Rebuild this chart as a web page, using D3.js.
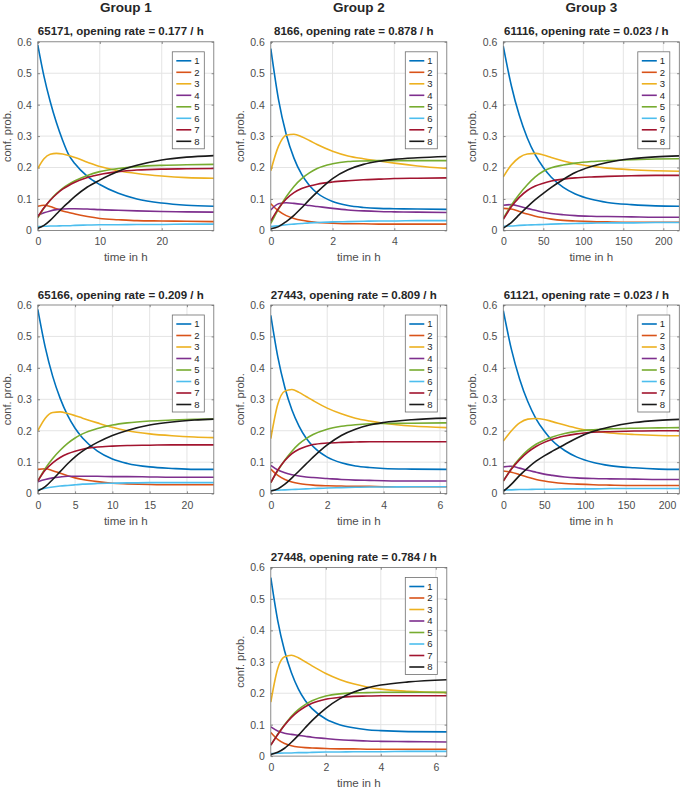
<!DOCTYPE html>
<html><head><meta charset="utf-8">
<script src="https://cdn.jsdelivr.net/npm/d3@7"></script>
<style>body{margin:0;background:#fff;} svg{display:block;font-family:"Liberation Sans",Arial,Helvetica,sans-serif;}</style>
</head><body><svg id="chart" width="683" height="788"></svg>
<script>
const groupTitles = ["Group 1", "Group 2", "Group 3"];
const panelTitles = [
  "65171, opening rate = 0.177 / h",
  "8166, opening rate = 0.878 / h",
  "61116, opening rate = 0.023 / h",
  "65166, opening rate = 0.209 / h",
  "27443, opening rate = 0.809 / h",
  "61121, opening rate = 0.023 / h",
  "27448, opening rate = 0.784 / h"
];
const seriesLabels = ["1", "2", "3", "4", "5", "6", "7", "8"];
const seriesColors = ["#0072BD", "#D95319", "#EDB120", "#7E2F8E", "#77AC30", "#4DBEEE", "#A2142F", "#1a1a1a"];
const xMax = [28.4, 5.7, 220, 23.6, 6.24, 215, 6.4];
const xTickValues = [[0,10,20],[0,2,4],[0,50,100,150,200],[0,5,10,15,20],[0,2,4,6],[0,50,100,150,200],[0,2,4,6]];
const yTickValues = [0, 0.1, 0.2, 0.3, 0.4, 0.5, 0.6];

const p1Time = [0,1,2,3,4,5,6,8,10,13,16,20,24,28.4];
const p1Values = [
  [0.590,0.490,0.410,0.343,0.287,0.240,0.212,0.172,0.146,0.118,0.100,0.087,0.080,0.077],
  [0.077,0.080,0.076,0.069,0.062,0.057,0.052,0.044,0.038,0.034,0.031,0.030,0.029,0.028],
  [0.197,0.228,0.242,0.245,0.243,0.238,0.232,0.217,0.203,0.190,0.181,0.173,0.168,0.166],
  [0.048,0.056,0.062,0.066,0.068,0.069,0.069,0.068,0.066,0.064,0.062,0.060,0.059,0.058],
  [0.040,0.071,0.096,0.117,0.134,0.147,0.158,0.175,0.187,0.197,0.203,0.207,0.209,0.210],
  [0.012,0.013,0.014,0.014,0.015,0.015,0.016,0.017,0.018,0.018,0.019,0.019,0.020,0.020],
  [0.043,0.072,0.096,0.115,0.131,0.143,0.153,0.168,0.178,0.187,0.192,0.195,0.196,0.197],
  [0.007,0.016,0.032,0.052,0.072,0.090,0.108,0.138,0.160,0.188,0.207,0.224,0.233,0.238]
];
const p2Time = [0,0.25,0.5,0.75,1,1.25,1.5,2,2.5,3,3.5,4,4.75,5.7];
const p2Values = [
  [0.578,0.416,0.305,0.230,0.178,0.143,0.119,0.092,0.079,0.073,0.070,0.069,0.068,0.067],
  [0.085,0.062,0.047,0.038,0.032,0.028,0.025,0.023,0.021,0.021,0.020,0.020,0.020,0.020],
  [0.190,0.268,0.303,0.306,0.298,0.286,0.273,0.252,0.237,0.228,0.221,0.214,0.205,0.197],
  [0.065,0.085,0.088,0.086,0.083,0.079,0.076,0.070,0.065,0.062,0.060,0.059,0.058,0.057],
  [0.022,0.068,0.107,0.140,0.165,0.183,0.197,0.212,0.219,0.221,0.222,0.222,0.222,0.222],
  [0.012,0.015,0.018,0.020,0.022,0.024,0.025,0.027,0.028,0.029,0.030,0.030,0.031,0.031],
  [0.030,0.070,0.100,0.120,0.133,0.141,0.147,0.154,0.158,0.161,0.163,0.165,0.166,0.167],
  [0.005,0.012,0.028,0.048,0.072,0.098,0.122,0.165,0.193,0.210,0.220,0.226,0.231,0.235]
];
const p3Time = [0,10,20,30,40,50,60,75,90,110,130,160,190,220];
const p3Values = [
  [0.586,0.461,0.366,0.294,0.240,0.200,0.169,0.137,0.116,0.099,0.089,0.082,0.078,0.077],
  [0.070,0.068,0.060,0.052,0.045,0.040,0.036,0.032,0.030,0.028,0.027,0.026,0.026,0.026],
  [0.170,0.208,0.232,0.243,0.245,0.240,0.232,0.221,0.212,0.204,0.198,0.193,0.190,0.188],
  [0.080,0.082,0.077,0.070,0.064,0.058,0.054,0.050,0.047,0.045,0.044,0.043,0.042,0.042],
  [0.038,0.080,0.115,0.145,0.170,0.188,0.199,0.208,0.214,0.219,0.222,0.225,0.227,0.228],
  [0.013,0.014,0.016,0.017,0.018,0.019,0.020,0.021,0.022,0.023,0.024,0.024,0.025,0.025],
  [0.035,0.075,0.105,0.127,0.141,0.150,0.157,0.163,0.167,0.170,0.172,0.174,0.175,0.175],
  [0.007,0.025,0.050,0.075,0.098,0.118,0.137,0.162,0.184,0.203,0.216,0.228,0.234,0.237]
];
const p4Time = [0,1,2,3,4,5,6,8,10,12,15,18,21,23.6];
const p4Values = [
  [0.586,0.465,0.373,0.303,0.249,0.208,0.177,0.135,0.110,0.096,0.085,0.080,0.077,0.077],
  [0.077,0.079,0.073,0.065,0.057,0.050,0.045,0.038,0.033,0.031,0.029,0.028,0.028,0.028],
  [0.200,0.240,0.258,0.260,0.255,0.248,0.240,0.225,0.211,0.200,0.190,0.184,0.180,0.178],
  [0.038,0.045,0.050,0.053,0.055,0.055,0.055,0.055,0.054,0.054,0.053,0.052,0.052,0.052],
  [0.040,0.080,0.112,0.138,0.160,0.177,0.190,0.207,0.218,0.225,0.231,0.234,0.236,0.237],
  [0.012,0.017,0.021,0.024,0.026,0.028,0.030,0.032,0.033,0.034,0.035,0.035,0.035,0.035],
  [0.040,0.075,0.098,0.115,0.127,0.135,0.141,0.148,0.151,0.153,0.154,0.155,0.155,0.155],
  [0.008,0.022,0.045,0.070,0.095,0.117,0.135,0.163,0.185,0.201,0.218,0.228,0.234,0.237]
];
const p5Time = [0,0.25,0.5,0.75,1,1.25,1.5,2,2.5,3,3.5,4,5,6.24];
const p5Values = [
  [0.567,0.434,0.337,0.266,0.215,0.177,0.150,0.116,0.098,0.088,0.083,0.080,0.078,0.077],
  [0.078,0.058,0.045,0.037,0.032,0.029,0.027,0.025,0.024,0.023,0.023,0.022,0.022,0.022],
  [0.175,0.285,0.326,0.331,0.322,0.309,0.296,0.272,0.254,0.240,0.231,0.224,0.215,0.210],
  [0.090,0.075,0.066,0.060,0.056,0.053,0.051,0.048,0.045,0.043,0.042,0.041,0.040,0.040],
  [0.035,0.073,0.107,0.135,0.158,0.175,0.188,0.205,0.214,0.219,0.222,0.223,0.224,0.225],
  [0.010,0.011,0.012,0.013,0.014,0.015,0.016,0.018,0.019,0.020,0.021,0.021,0.022,0.022],
  [0.035,0.075,0.105,0.127,0.141,0.150,0.156,0.161,0.163,0.164,0.165,0.165,0.165,0.165],
  [0.008,0.015,0.030,0.050,0.072,0.094,0.116,0.155,0.185,0.205,0.218,0.226,0.235,0.240]
];
const p6Time = [0,10,20,30,40,50,60,75,90,110,130,160,190,215];
const p6Values = [
  [0.582,0.458,0.364,0.292,0.238,0.199,0.168,0.137,0.116,0.099,0.089,0.082,0.078,0.077],
  [0.072,0.068,0.060,0.052,0.045,0.040,0.036,0.032,0.030,0.028,0.027,0.026,0.026,0.026],
  [0.167,0.200,0.225,0.237,0.239,0.236,0.229,0.218,0.208,0.199,0.193,0.188,0.185,0.184],
  [0.085,0.087,0.081,0.074,0.068,0.062,0.058,0.053,0.050,0.048,0.047,0.046,0.045,0.045],
  [0.040,0.080,0.112,0.138,0.157,0.170,0.180,0.191,0.198,0.203,0.206,0.208,0.209,0.210],
  [0.012,0.012,0.013,0.013,0.014,0.014,0.014,0.015,0.015,0.015,0.016,0.016,0.016,0.016],
  [0.040,0.078,0.108,0.132,0.150,0.163,0.173,0.183,0.190,0.195,0.197,0.199,0.200,0.200],
  [0.007,0.030,0.058,0.082,0.103,0.120,0.135,0.156,0.177,0.198,0.212,0.226,0.233,0.236]
];
const p7Time = [0,0.25,0.5,0.75,1,1.25,1.5,2,2.5,3,3.5,4,5,6.4];
const p7Values = [
  [0.568,0.432,0.335,0.265,0.214,0.177,0.151,0.118,0.100,0.090,0.084,0.081,0.078,0.077],
  [0.075,0.053,0.040,0.033,0.029,0.027,0.026,0.024,0.023,0.023,0.022,0.022,0.022,0.022],
  [0.172,0.278,0.316,0.321,0.313,0.300,0.287,0.263,0.244,0.230,0.220,0.213,0.206,0.202],
  [0.093,0.080,0.073,0.069,0.066,0.063,0.060,0.056,0.052,0.050,0.048,0.047,0.046,0.045],
  [0.035,0.070,0.100,0.127,0.148,0.164,0.176,0.191,0.198,0.201,0.202,0.203,0.203,0.203],
  [0.008,0.009,0.010,0.010,0.011,0.011,0.012,0.013,0.013,0.014,0.014,0.014,0.015,0.015],
  [0.035,0.068,0.098,0.123,0.142,0.157,0.168,0.181,0.187,0.190,0.191,0.192,0.192,0.192],
  [0.005,0.012,0.025,0.044,0.066,0.090,0.113,0.152,0.182,0.203,0.217,0.226,0.236,0.243]
];

const times = [p1Time, p2Time, p3Time, p4Time, p5Time, p6Time, p7Time];
const values = [p1Values, p2Values, p3Values, p4Values, p5Values, p6Values, p7Values];

const svg = d3.select("#chart");
const colLeft = [37.8, 270.8, 503.3];
const rowTop = [41.8, 305, 567.5];
const W = 176, H = 188.6;
const panelPos = [[0,0],[0,1],[0,2],[1,0],[1,1],[1,2],[2,1]];
const textCol = "#262626", tickCol = "#4d4d4d", boxCol = "#6e6e6e", gridCol = "#e4e4e4";

groupTitles.forEach((t, i) => {
  svg.append("text").attr("x", colLeft[i] + W / 2).attr("y", 11.5)
    .attr("text-anchor", "middle").attr("font-size", 13.5).attr("font-weight", "bold")
    .attr("fill", textCol).text(t);
});

panelTitles.forEach((title, p) => {
  const [r, c] = panelPos[p];
  const g = svg.append("g").attr("transform", `translate(${colLeft[c]},${rowTop[r]})`);
  const x = d3.scaleLinear().domain([0, xMax[p]]).range([0, W]);
  const y = d3.scaleLinear().domain([0, 0.6]).range([H, 0]);

  g.append("rect").attr("width", W).attr("height", H).attr("fill", "#fff");
  // grid
  g.append("g").selectAll("line").data(xTickValues[p].filter(d => d > 0)).join("line")
    .attr("x1", d => x(d)).attr("x2", d => x(d)).attr("y1", 0).attr("y2", H)
    .attr("stroke", gridCol).attr("stroke-width", 1);
  g.append("g").selectAll("line").data(yTickValues.filter(d => d > 0 && d < 0.6)).join("line")
    .attr("x1", 0).attr("x2", W).attr("y1", d => y(d)).attr("y2", d => y(d))
    .attr("stroke", gridCol).attr("stroke-width", 1);

  // axes
  const styleAxis = sel => {
    sel.select(".domain").remove();
    sel.selectAll(".tick line").attr("stroke", boxCol).attr("stroke-width", 0.8);
    sel.selectAll(".tick text").attr("fill", tickCol).attr("font-size", 10.5)
      .attr("font-family", '"Liberation Sans",Arial,sans-serif');
  };
  g.append("g").attr("transform", `translate(0,${H})`)
    .call(d3.axisBottom(x).tickValues(xTickValues[p]).tickFormat(d => String(d)).tickSize(-2.2).tickPadding(7.5))
    .call(styleAxis);
  g.append("g")
    .call(d3.axisLeft(y).tickValues(yTickValues).tickFormat(d => String(d)).tickSize(-2.2).tickPadding(6))
    .call(styleAxis);
  g.append("g")
    .call(d3.axisTop(x).tickValues(xTickValues[p]).tickFormat("").tickSize(-2.2))
    .call(styleAxis);
  g.append("g").attr("transform", `translate(${W},0)`)
    .call(d3.axisRight(y).tickValues(yTickValues).tickFormat("").tickSize(-2.2))
    .call(styleAxis);

  // clip
  const clipId = "clip" + p;
  g.append("clipPath").attr("id", clipId).append("rect").attr("width", W).attr("height", H);

  const line = d3.line()
    .x((d, i) => x(times[p][i]))
    .y(d => y(d))
    .curve(d3.curveMonotoneX);
  g.append("g").attr("clip-path", `url(#${clipId})`)
    .selectAll("path").data(values[p]).join("path")
    .attr("d", line).attr("fill", "none")
    .attr("stroke", (d, i) => seriesColors[i]).attr("stroke-width", 1.6)
    .attr("stroke-linejoin", "round");

  // box
  g.append("rect").attr("width", W).attr("height", H).attr("fill", "none")
    .attr("stroke", boxCol).attr("stroke-width", 0.8);

  // title
  g.append("text").attr("x", W / 2 - 5).attr("y", -6.5).attr("text-anchor", "middle")
    .attr("font-size", 11.5).attr("font-weight", "bold").attr("fill", textCol).text(title);
  // labels
  g.append("text").attr("x", W / 2).attr("y", H + 31).attr("text-anchor", "middle")
    .attr("font-size", 11.6).attr("fill", tickCol).text("time in h");
  g.append("text").attr("transform", `translate(-27,${H / 2}) rotate(-90)`)
    .attr("text-anchor", "middle").attr("font-size", 11).attr("fill", tickCol).text("conf. prob.");

  // legend
  const lw = 32, lh = 97;
  const lg = g.append("g").attr("transform", `translate(${W - 9.5 - lw},10)`);
  lg.append("rect").attr("width", lw).attr("height", lh).attr("fill", "#fff")
    .attr("stroke", boxCol).attr("stroke-width", 0.8);
  const items = lg.selectAll("g.item").data(seriesLabels).join("g").attr("class", "item")
    .attr("transform", (d, i) => `translate(0,${9 + i * 11.5})`);
  items.append("line").attr("x1", 4).attr("x2", 19).attr("y1", 0).attr("y2", 0)
    .attr("stroke", (d, i) => seriesColors[i]).attr("stroke-width", 1.6);
  items.append("text").attr("x", 22).attr("y", 0).attr("dy", "0.35em")
    .attr("font-size", 9.5).attr("fill", textCol).text(d => d);
});
</script>
</body></html>
